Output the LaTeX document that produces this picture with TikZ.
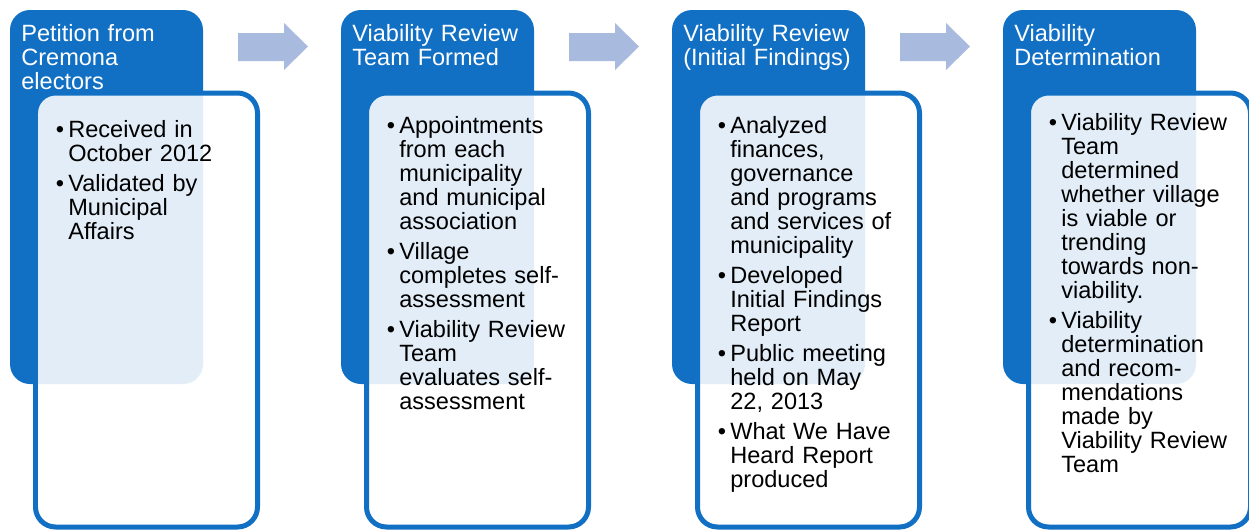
\documentclass[tikz,border=0pt]{standalone}
\usepackage{fontspec}
\setmainfont{Liberation Sans}
\usetikzlibrary{positioning}
\definecolor{stepblue}{HTML}{1170C4}
\definecolor{arrowblue}{HTML}{A9BADF}
\tikzset{headbox/.style = {fill = stepblue, rounded corners = 0.4cm}}
\tikzset{listbox/.style = {draw = stepblue, line width = 0.1cm, fill = white, fill opacity = 0.88, rounded corners = 0.4cm}}
\tikzset{headtext/.style = {text = white, font = \fontsize{13.4}{13.7}\selectfont, text width = 4cm, align = left, inner sep = 0pt, anchor = base west}}
\tikzset{listtext/.style = {text = black, font = \fontsize{13.4}{13.7}\selectfont, text width = 4cm, align = left, inner sep = 0pt, anchor = base west}}
\tikzset{flowarrow/.style = {fill = arrowblue}}
\newcommand{\bpt}[1]{\hangindent=0.25cm\hangafter=1\noindent\makebox[0.25cm][l]{\textbullet}#1\par\vspace{0.12cm}}

\begin{document}
\begin{tikzpicture}[x = 0.02cm, y = -0.02cm]
\useasboundingbox (0,0) rectangle (1249,529);
% blue header boxes and framed lists
\foreach \i in {0,1,2,3}{
  \fill[headbox] (10+331*\i,10) rectangle (203+331*\i,384);
  \draw[listbox] (35.5+331*\i,93) rectangle (257.5+331*\i,527);
}
% arrows between the steps
\foreach \i in {0,1,2}{
  \fill[flowarrow, shift = {(331*\i,0)}] (238,33) -- (284,33) -- (284,23) -- (308,46.5) -- (284,70) -- (284,61) -- (238,61) -- cycle;
}
\node[headtext] (head1) at (21,41) {Petition from\\Cremona\\electors};
\node[headtext] (head2) at (352,41) {Viability Review\\Team Formed};
\node[headtext] (head3) at (683,41) {Viability Review\\(Initial Findings)};
\node[headtext] (head4) at (1014,41) {Viability\\Determination};
\node[listtext] (list1) at (55.5,137) {\bpt{Received in\newline October 2012}\bpt{Validated by\newline Municipal\newline Affairs}};
\node[listtext] (list2) at (386.5,133) {\bpt{Appointments\newline from each\newline municipality\newline and municipal\newline association}\bpt{Village\newline completes self-\newline assessment}\bpt{Viability Review\newline Team\newline evaluates self-\newline assessment}};
\node[listtext] (list3) at (717.5,133) {\bpt{Analyzed\newline finances,\newline governance\newline and programs\newline and services of\newline municipality}\bpt{Developed\newline Initial Findings\newline Report}\bpt{Public meeting\newline held on May\newline 22, 2013}\bpt{What We Have\newline Heard Report\newline produced}};
\node[listtext] (list4) at (1048.5,130) {\bpt{Viability Review\newline Team\newline determined\newline whether village\newline is viable or\newline trending\newline towards non-\newline viability.}\bpt{Viability\newline determination\newline and recom-\newline mendations\newline made by\newline Viability Review\newline Team}};
\end{tikzpicture}
\end{document}
